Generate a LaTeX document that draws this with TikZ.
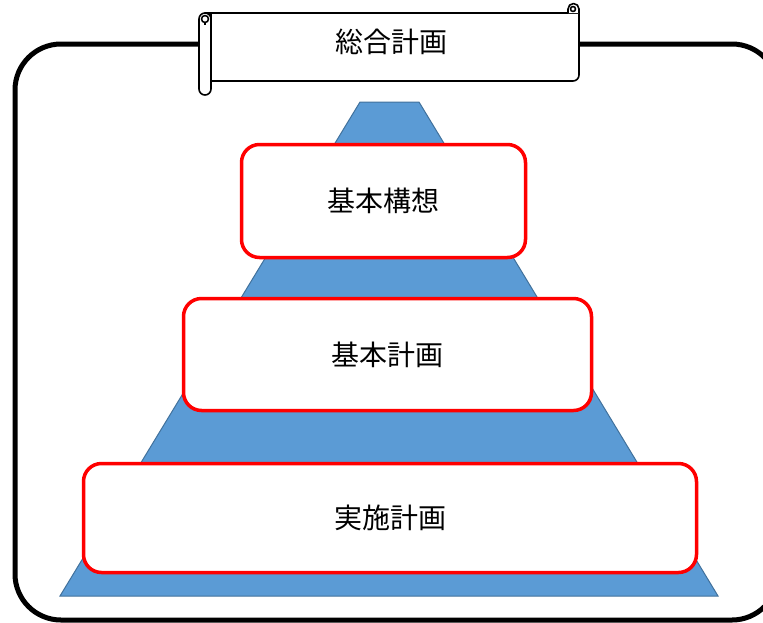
\documentclass[tikz,border=0pt]{standalone}
\usepackage{fontspec}
\newfontfamily\jp{Noto Sans CJK JP}
\begin{document}
\begin{tikzpicture}[x=1pt,y=-1pt,
  layer/.style={draw=red,line width=3.5pt,fill=white,rounded corners=18pt},
  lbl/.style={font=\jp\fontsize{28}{32}\selectfont,text=black},
  scrollline/.style={draw=black,line width=1.6pt,line join=round}]
\useasboundingbox (0,0) rectangle (763,622);
\begin{scope}
\clip (0,0) rectangle (763,622);
\draw[line width=5pt,rounded corners=46pt] (15,44) rectangle (778,620);
\end{scope}
% pyramid
\fill[fill={rgb,255:red,91;green,155;blue,213},draw={rgb,255:red,65;green,113;blue,156},line width=1pt]
  (360,102) -- (419,102) -- (718,596) -- (60,596) -- cycle;
% layers
\node[layer,minimum width=284pt,minimum height=113pt] (k1) at (383.5,201) {};
\node[lbl] at (k1) {基本構想};
\node[layer,minimum width=408pt,minimum height=112pt] (k2) at (387.5,354.5) {};
\node[lbl] at (k2) {基本計画};
\node[layer,minimum width=613pt,minimum height=109pt] (k3) at (390,518) {};
\node[lbl] at (k3) {実施計画};
% scroll
\filldraw[scrollline,fill=white] (205,13) -- (572,13) -- (579,13) -- (579,75) arc[start angle=0,end angle=90,radius=6] -- (211,81) -- (211,13) -- cycle;
\filldraw[scrollline,fill=white] (199,19) -- (199,89) arc[start angle=180,end angle=0,radius=6] -- (211,19) arc[start angle=0,end angle=-180,radius=6];
\draw[scrollline] (205,19) circle[radius=3.5];
\draw[scrollline] (205,22.5) -- (205,25);
\filldraw[scrollline,fill=white] (568,13) -- (568,9) arc[start angle=180,end angle=360,radius=5.5] -- (579,13);
\draw[scrollline] (573,9) circle[radius=2.5];
\node[lbl] (t) at (391,42) {総合計画};
\end{tikzpicture}
\end{document}
